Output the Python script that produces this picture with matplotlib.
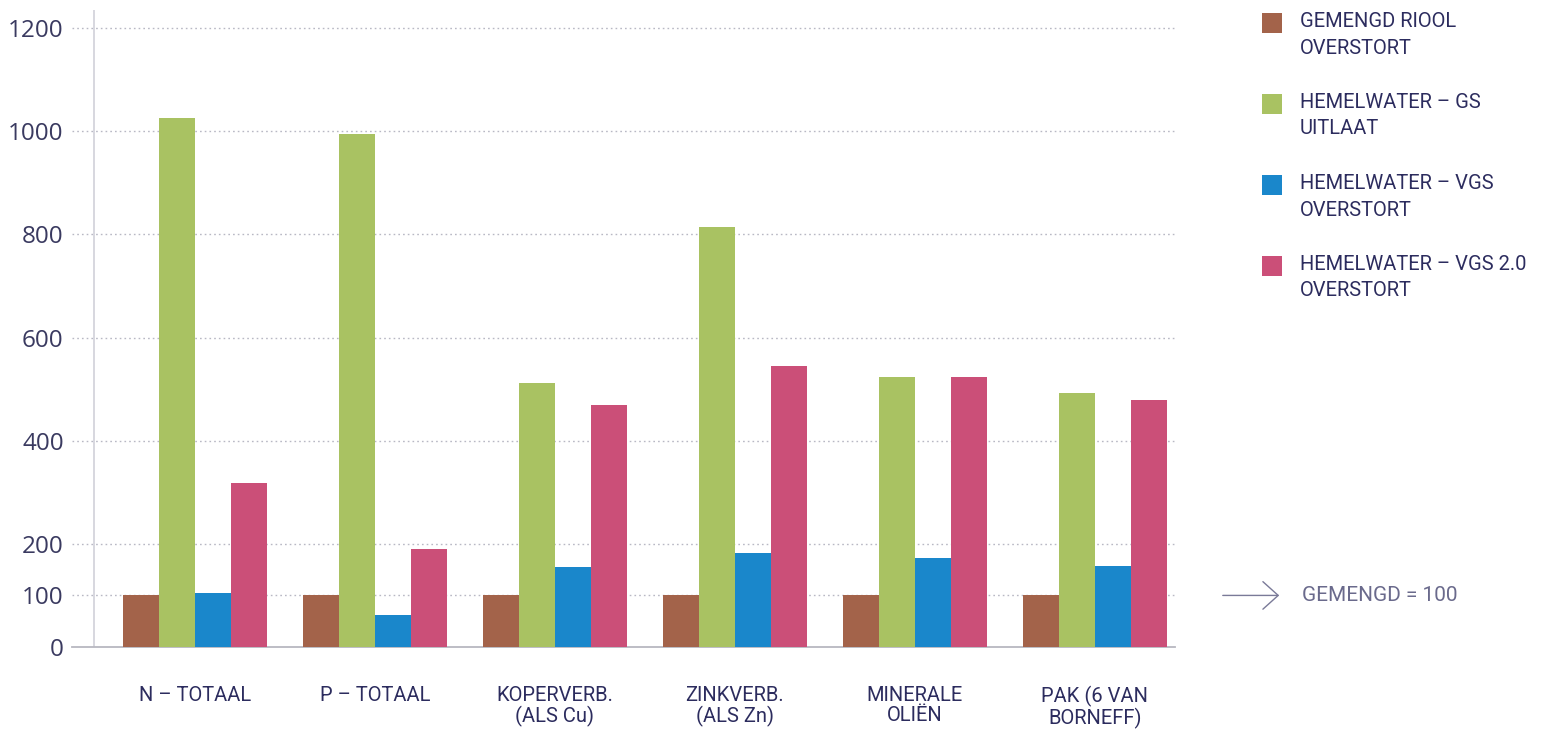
import matplotlib
matplotlib.use("Agg")
import matplotlib.pyplot as plt
import matplotlib.transforms as mtransforms
from matplotlib.patches import Rectangle
import numpy as np

categories = ["N – TOTAAL", "P – TOTAAL", "KOPERVERB.\n(ALS Cu)", "ZINKVERB.\n(ALS Zn)",
              "MINERALE\nOLIËN", "PAK (6 VAN\nBORNEFF)"]
series_names = ["GEMENGD RIOOL\nOVERSTORT", "HEMELWATER – GS\nUITLAAT",
                "HEMELWATER – VGS\nOVERSTORT", "HEMELWATER – VGS 2.0\nOVERSTORT"]
gemengd = [100, 100, 100, 100, 100, 100]
gs_uitlaat = [1025, 995, 512, 814, 523, 492]
vgs = [105, 62, 155, 182, 172, 157]
vgs20 = [318, 190, 469, 545, 523, 479]
yticks = [0, 100, 200, 400, 600, 800, 1000, 1200]
note = "GEMENGD = 100"

colors = ["#A3634A", "#A9C262", "#1A87CB", "#CB4F78"]
text_col = "#2C2C5E"
narrow = ["Roboto", "DejaVu Sans"]

W, H = 1545, 730
fig = plt.figure(figsize=(W / 100, H / 100), dpi=100)
ax_left, ax_right, ax_bottom, ax_top = 72, 1175, 647, 10
ax = fig.add_axes([ax_left / W, (H - ax_bottom) / H, (ax_right - ax_left) / W, (ax_bottom - ax_top) / H])

x = np.arange(len(categories))
w = 0.2
data = [gemengd, gs_uitlaat, vgs, vgs20]
for i, (vals, c) in enumerate(zip(data, colors)):
    ax.bar(x + (i - 1.5) * w, vals, width=w, color=c, linewidth=0, zorder=3)

px = 180.0  # pixels per category unit
x_spine = -0.56
ax.set_xlim(x_spine - (94 - ax_left) / px, x_spine + (ax_right - 94) / px)
ax.set_ylim(0, 1235)

for yv in yticks[1:]:
    ax.axhline(yv, color="#B8B8C4", linestyle=(0, (1.2, 2.2)), linewidth=1.0, zorder=1)
ax.axvline(x_spine, color="#D4D4DC", linewidth=1.3, zorder=2)

for s in ["top", "right", "left"]:
    ax.spines[s].set_visible(False)
ax.spines["bottom"].set_color("#B8B8C0")
ax.spines["bottom"].set_linewidth(1.3)

ax.set_yticks(yticks)
ax.set_yticklabels([str(v) for v in yticks], fontsize=17.5, color="#3A3A60",
                   family=["Open Sans", "DejaVu Sans"])
ax.tick_params(axis="y", length=0, pad=6)
ax.set_xticks(x)
ax.set_xticklabels(categories, fontsize=14.5, color=text_col, family=narrow, linespacing=1.05)
ax.tick_params(axis="x", length=0, pad=28)

# legend
for i, (name, c) in enumerate(zip(series_names, colors)):
    ytop = 13 + i * 81
    fig.patches.append(Rectangle((1262 / W, (H - ytop - 20) / H), 20 / W, 20 / H,
                                 transform=fig.transFigure, color=c, linewidth=0))
    fig.text(1300 / W, (H - ytop + 1) / H, name, ha="left", va="top", fontsize=14.5,
             color=text_col, family=narrow, linespacing=1.5)

# annotation arrow
trans = mtransforms.blended_transform_factory(fig.transFigure, ax.transData)
ax.annotate("", xy=(1282 / W, 100), xytext=(1220 / W, 100), xycoords=trans, textcoords=trans,
            arrowprops=dict(arrowstyle="->,head_length=0.5,head_width=0.45", color="#7A7A98",
                            lw=1.0, mutation_scale=22),
            annotation_clip=False)
ax.text(1302 / W, 100, note, transform=trans, ha="left", va="center", fontsize=15,
        color="#6A6A8C", family=narrow, clip_on=False)

fig.savefig("out.png", dpi=100, facecolor="white")
